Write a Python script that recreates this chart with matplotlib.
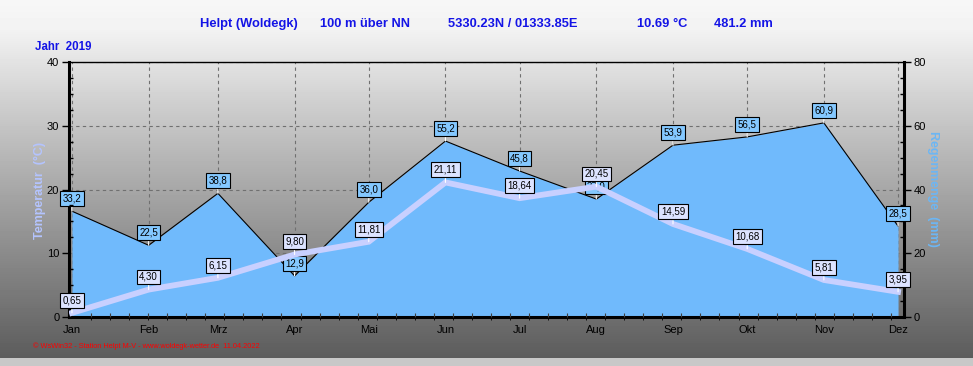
import matplotlib
matplotlib.use('Agg')
import matplotlib.pyplot as plt
import numpy as np

months = ['Jan', 'Feb', 'Mrz', 'Apr', 'Mai', 'Jun', 'Jul', 'Aug', 'Sep', 'Okt', 'Nov', 'Dez']
month_day = [0, 31, 59, 90, 120, 151, 181, 212, 243, 273, 304, 334]
temperature = [0.65, 4.30, 6.15, 9.80, 11.81, 21.11, 18.64, 20.45, 14.59, 10.68, 5.81, 3.95]
rain = [33.2, 22.5, 38.8, 12.9, 36.0, 55.2, 45.8, 37.0, 53.9, 56.5, 60.9, 28.5]
temp_labels = ['0,65', '4,30', '6,15', '9,80', '11,81', '21,11', '18,64', '20,45', '14,59', '10,68', '5,81', '3,95']
rain_labels = ['33,2', '22,5', '38,8', '12,9', '36,0', '55,2', '45,8', '37,0', '53,9', '56,5', '60,9', '28,5']

plt.rcParams['font.family'] = ['Liberation Sans', 'DejaVu Sans']

W, H = 973, 366
fig = plt.figure(figsize=(W / 100, H / 100), dpi=100)

# background gradient
bg = fig.add_axes([0, 0, 1, 1], zorder=-10)
ys = np.arange(H)
g = np.interp(ys, [0, 30, 100, 200, 300, 357, 358, 366],
              [247, 242, 208, 162, 118, 92, 200, 200]) / 255.0
img = np.repeat(g[:, None], 2, axis=1)
bg.imshow(img, cmap='gray', vmin=0, vmax=1, aspect='auto', extent=[0, 1, 0, 1], origin='upper')
bg.set_axis_off()

def px(x0, y0, x1, y1):
    return [x0 / W, 1 - y1 / H, (x1 - x0) / W, (y1 - y0) / H]

ax2 = fig.add_axes(px(69, 62, 904, 317))
ax = ax2.twinx()
ax.xaxis.set_visible(True)
ax.yaxis.tick_left()
ax.yaxis.set_label_position('left')
ax2.yaxis.tick_right()
ax.set_zorder(ax2.get_zorder() + 1)
ax.patch.set_visible(False)
ax2.patch.set_visible(False)

xmin, xmax = -1.2, 336.4
for a in (ax, ax2):
    a.set_xlim(xmin, xmax)

ax.set_ylim(0, 40)
ax2.set_ylim(0, 80)

# grid on lower axes
ax2.set_axisbelow(True)
ax2.set_xticks(month_day)
ax2.set_yticks([0, 20, 40, 60, 80])
ax2.grid(True, color='#707070', linestyle=(0, (3, 3)), linewidth=0.8)

# rain area
ax2.fill_between(month_day, rain, 0, color='#70bafc', linewidth=0, zorder=2)
ax2.plot(month_day, rain, color='black', linewidth=0.8, zorder=3)

# temperature line
ax.plot(month_day, temperature, color='#c8d0ff', linewidth=4.2, solid_joinstyle='miter', zorder=3)

# labels
for d, v, t in zip(month_day, rain, rain_labels):
    ax2.annotate(t, xy=(d, v), xytext=(0, 5.5), textcoords='offset points',
                 ha='center', va='bottom', fontsize=7, color='black', zorder=4,
                 bbox=dict(boxstyle='square,pad=0.25', fc='#84c8ff', ec='black', lw=0.8),
                 arrowprops=dict(arrowstyle='-', color='white', lw=0.8, shrinkA=0, shrinkB=0))
for d, v, t in zip(month_day, temperature, temp_labels):
    ax.annotate(t, xy=(d, v), xytext=(0, 5.5), textcoords='offset points',
                ha='center', va='bottom', fontsize=7, color='black', zorder=5,
                bbox=dict(boxstyle='square,pad=0.25', fc='#dce3ff', ec='black', lw=0.8),
                arrowprops=dict(arrowstyle='-', color='white', lw=0.8, shrinkA=0, shrinkB=0))

# ticks
ax.set_xticks(month_day)
ax.set_xticklabels(months, fontsize=8)
ax2.tick_params(axis='x', labelbottom=False, length=0)
ax.tick_params(axis='x', which='major', length=0, pad=6)
ax.set_yticks([0, 10, 20, 30, 40])
ax.tick_params(axis='y', which='major', labelsize=8, length=5, width=1, direction='out', pad=2)
ax.set_yticks(np.arange(0, 40.1, 2.5), minor=True)
ax.tick_params(axis='y', which='minor', length=3, width=1, direction='in')
ax2.tick_params(axis='y', which='major', labelsize=8, length=5, width=1, direction='out', pad=2)
ax2.set_yticks(np.arange(0, 80.1, 5), minor=True)
ax2.tick_params(axis='y', which='minor', length=3, width=1, direction='in')
ax.set_xticks(np.arange(0, 336, 7.7), minor=True)
ax.tick_params(axis='x', which='minor', length=3, width=0.8, direction='in', color='#404040')

# spines drawn by the lower axes so that labels can overlap them
for s in ('left', 'bottom', 'right', 'top'):
    ax.spines[s].set_visible(False)
    ax2.spines[s].set_visible(True)
    ax2.spines[s].set_color('black')
    ax2.spines[s].set_zorder(3.5)
ax2.spines['left'].set_linewidth(2.2)
ax2.spines['bottom'].set_linewidth(2.2)
ax2.spines['right'].set_linewidth(2.2)
ax2.spines['top'].set_linewidth(1.0)

# titles
blue = '#1414e6'
def ftext(x, y, s, **kw):
    fig.text(x / W, 1 - y / H, s, **kw)

ftext(200, 24, 'Helpt (Woldegk)', color=blue, fontsize=9.3, fontweight='bold', va='center')
ftext(320, 24, '100 m über NN', color=blue, fontsize=9.3, fontweight='bold', va='center')
ftext(448, 24, '5330.23N / 01333.85E', color=blue, fontsize=9.3, fontweight='bold', va='center')
ftext(637, 24, '10.69 °C', color=blue, fontsize=9.3, fontweight='bold', va='center')
ftext(714, 24, '481.2 mm', color=blue, fontsize=9.3, fontweight='bold', va='center')
ftext(35, 47, 'Jahr  2019', color=blue, fontsize=8.3, fontweight='bold', va='center')

ftext(40, 190, 'Temperatur  (°C)', color='#b4c4ff', fontsize=9, fontweight='bold',
      rotation=90, ha='center', va='center')
ftext(933, 189, 'Regenmenge  (mm)', color='#6cb6f4', fontsize=9, fontweight='bold',
      rotation=-90, ha='center', va='center')

ftext(33, 346, '© WsWin32 - Station Helpt M-V - www.woldegk-wetter.de  11.04.2022',
      color='#ff0000', fontsize=5.3, va='center')

fig.savefig('out.png', dpi=100)
